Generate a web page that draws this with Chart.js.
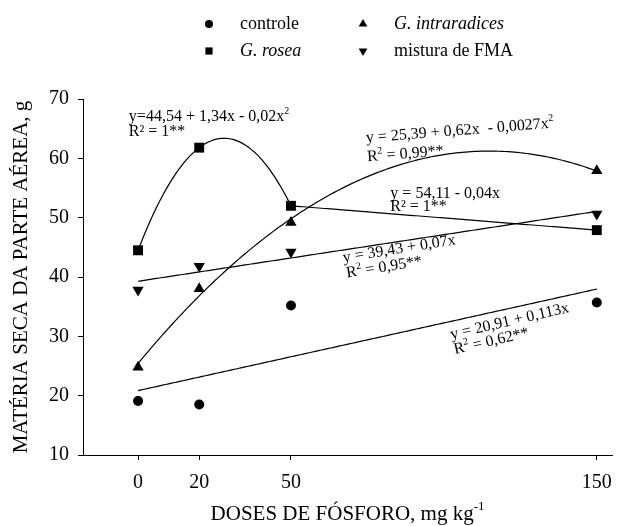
<!DOCTYPE html>
<html>
<head>
<meta charset="utf-8">
<script src="https://cdn.jsdelivr.net/npm/chart.js@4.4.1/dist/chart.umd.min.js"></script>
<style>
  html, body { margin: 0; padding: 0; background: #fff; }
  #wrap { width: 623px; height: 526px; }
</style>
</head>
<body>
<div id="wrap"><canvas id="chart"></canvas></div>
<script>
// doses de fósforo (mg kg-1)
const doses = [0, 20, 50, 150];
const doseTicks = [0, 20, 50, 150];
const yTicks = [10, 20, 30, 40, 50, 60, 70];

// matéria seca da parte aérea (g)
const controle = [19.1, 18.5, 35.2, 35.7];
const gRosea = [44.5, 61.8, 52.0, 47.9];
const gIntraradices = [24.8, 38.0, 49.2, 57.9];
const misturaFMA = [37.8, 41.8, 44.2, 50.6];

const xTitle = 'DOSES DE FÓSFORO, mg kg^-1';
const yTitle = 'MATÉRIA SECA DA PARTE AÉREA, g';
const serif = 'Liberation Serif';

// least squares polynomial fit, returns [a, b, c...]
function polyFit(xs, ys, deg) {
  const n = deg + 1;
  const A = [], b = [];
  for (let i = 0; i < n; i++) {
    A.push([]);
    for (let j = 0; j < n; j++) A[i].push(xs.reduce((s, x) => s + Math.pow(x, i + j), 0));
    b.push(xs.reduce((s, x, k) => s + ys[k] * Math.pow(x, i), 0));
  }
  for (let i = 0; i < n; i++) {
    for (let k = i + 1; k < n; k++) {
      const f = A[k][i] / A[i][i];
      for (let j = i; j < n; j++) A[k][j] -= f * A[i][j];
      b[k] -= f * b[i];
    }
  }
  const c = new Array(n).fill(0);
  for (let i = n - 1; i >= 0; i--) {
    let s = b[i];
    for (let j = i + 1; j < n; j++) s -= A[i][j] * c[j];
    c[i] = s / A[i][i];
  }
  return c;
}

function fitCurve(coef, from, to) {
  const pts = [];
  for (let x = from; x <= to + 1e-9; x += 1) {
    pts.push({ x: x, y: coef.reduce((s, c, i) => s + c * Math.pow(x, i), 0) });
  }
  return pts;
}

const toPoints = ys => doses.map((x, i) => ({ x: x, y: ys[i] }));

const marker = (label, ys, style, radius, rotation) => ({
  label: label, data: toPoints(ys), showLine: false, order: 0,
  pointStyle: style, pointRadius: radius, pointHoverRadius: radius, pointRotation: rotation || 0,
  backgroundColor: '#000', borderColor: '#000', borderWidth: 0
});

const trend = pts => ({
  label: 'fit', data: pts, showLine: true, order: 1, pointRadius: 0,
  borderColor: '#000', borderWidth: 1.2, tension: 0, fill: false
});

const datasets = [
  marker('controle', controle, 'circle', 5),
  marker('G. rosea', gRosea, 'rect', 7),
  marker('G. intraradices', gIntraradices, 'triangle', 6.5),
  marker('mistura de FMA', misturaFMA, 'triangle', 6.5, 180),
  trend(fitCurve(polyFit(doses, controle, 1), 0, 150)),
  trend(fitCurve(polyFit(doses.slice(0, 3), gRosea.slice(0, 3), 2), 0, 50)),
  trend(fitCurve(polyFit(doses.slice(2), gRosea.slice(2), 1), 50, 150)),
  trend(fitCurve(polyFit(doses, gIntraradices, 2), 0, 150)),
  trend(fitCurve(polyFit(doses, misturaFMA, 1), 0, 150))
];

// equation labels: anchor in data units (left, middle), angle in degrees
const equations = [
  { text: 'y=44,54 + 1,34x - 0,02x^2', x: -3, y: 67.0, angle: 0 },
  { text: 'R² = 1**', x: -3, y: 64.5, angle: 0 },
  { text: 'y = 25,39 + 0,62x  - 0,0027x^2', x: 74.5, y: 63.4, angle: -4.5 },
  { text: 'R^2 = 0,99**', x: 74.9, y: 60.2, angle: -4.5 },
  { text: 'y = 54,11 - 0,04x', x: 82.5, y: 54.0, angle: 0 },
  { text: 'R² = 1**', x: 82.5, y: 51.8, angle: 0 },
  { text: 'y = 39,43 + 0,07x', x: 67.0, y: 43.2, angle: -9 },
  { text: 'R^2 = 0,95**', x: 68.1, y: 40.6, angle: -9 },
  { text: 'y = 20,91 + 0,113x', x: 102.2, y: 30.2, angle: -13 },
  { text: 'R^2 = 0,62**', x: 103.3, y: 27.7, angle: -13 }
];

// text with ^superscripts
function richParts(str) {
  const parts = [];
  const re = /\^(\S+)/g;
  let last = 0, m;
  while ((m = re.exec(str))) {
    if (m.index > last) parts.push({ t: str.slice(last, m.index), sup: false });
    parts.push({ t: m[1], sup: true });
    last = re.lastIndex;
  }
  if (last < str.length) parts.push({ t: str.slice(last), sup: false });
  return parts;
}

function richWidth(ctx, str, size, style) {
  let w = 0;
  richParts(str).forEach(p => {
    ctx.font = `${style || ''} ${p.sup ? size * 0.62 : size}px "${serif}"`;
    w += ctx.measureText(p.t).width;
  });
  return w;
}

function drawRich(ctx, str, x, y, size, style) {
  ctx.textAlign = 'left';
  ctx.textBaseline = 'middle';
  let cx = x;
  richParts(str).forEach(p => {
    const s = p.sup ? size * 0.62 : size;
    ctx.font = `${style || ''} ${s}px "${serif}"`;
    ctx.fillText(p.t, cx, p.sup ? y - size * 0.33 : y);
    cx += ctx.measureText(p.t).width;
  });
}

function drawShape(ctx, style, x, y, r, rot) {
  ctx.beginPath();
  if (style === 'circle') {
    ctx.arc(x, y, r, 0, Math.PI * 2);
  } else if (style === 'rect') {
    ctx.rect(x - r, y - r, 2 * r, 2 * r);
  } else {
    const d = rot ? -1 : 1;
    ctx.moveTo(x, y - d * r);
    ctx.lineTo(x + r * 0.87, y + d * r * 0.5);
    ctx.lineTo(x - r * 0.87, y + d * r * 0.5);
    ctx.closePath();
  }
  ctx.fill();
}

const annotations = {
  id: 'annotations',
  afterDatasetsDraw(chart) {
    const { ctx, scales: { x, y } } = chart;
    ctx.save();
    ctx.fillStyle = '#000';
    equations.forEach(e => {
      ctx.save();
      ctx.translate(x.getPixelForValue(e.x), y.getPixelForValue(e.y));
      ctx.rotate(e.angle * Math.PI / 180);
      drawRich(ctx, e.text, 0, 0, 16);
      ctx.restore();
    });

    // x axis title with superscript
    const a = chart.chartArea;
    const w = richWidth(ctx, xTitle, 21);
    drawRich(ctx, xTitle, (a.left + a.right) / 2 - w / 2, 514, 21);

    // legend, two columns
    const items = [
      { i: 0, col: 0, row: 0, italic: false },
      { i: 2, col: 1, row: 0, italic: true },
      { i: 1, col: 0, row: 1, italic: true },
      { i: 3, col: 1, row: 1, italic: false }
    ];
    const colX = [209, 363], rowY = [24, 51];
    items.forEach(it => {
      const ds = chart.data.datasets[it.i];
      const mx = colX[it.col], my = rowY[it.row];
      const r = ds.pointStyle === 'circle' ? 4 : ds.pointStyle === 'rect' ? 3.6 : 5;
      drawShape(ctx, ds.pointStyle, mx, my, r, ds.pointRotation);
      ctx.font = `${it.italic ? 'italic ' : ''}18px "${serif}"`;
      ctx.textAlign = 'left';
      ctx.textBaseline = 'middle';
      ctx.fillText(ds.label, mx + 31, my);
    });
    ctx.restore();
  }
};

Chart.defaults.font.family = serif;
Chart.defaults.color = '#000';

new Chart(document.getElementById('chart'), {
  type: 'scatter',
  data: { datasets: datasets },
  options: {
    responsive: true,
    maintainAspectRatio: false,
    animation: false,
    layout: { padding: { top: 99, left: 0, right: 0, bottom: 0 } },
    plugins: {
      legend: { display: false },
      tooltip: { enabled: false }
    },
    scales: {
      x: {
        type: 'linear',
        min: -18,
        max: 155,
        afterBuildTicks: s => { s.ticks = doseTicks.map(v => ({ value: v })); },
        afterFit: s => { s.height = 71; },
        ticks: { font: { size: 20 }, color: '#000', padding: 11, maxRotation: 0, autoSkip: false },
        grid: { drawOnChartArea: false, drawTicks: true, tickLength: 5, color: '#000' },
        border: { display: true, color: '#000', width: 1 }
      },
      y: {
        min: 10,
        max: 70,
        afterBuildTicks: s => { s.ticks = yTicks.map(v => ({ value: v })); },
        afterFit: s => { s.width = 83; },
        ticks: { font: { size: 20 }, color: '#000', padding: 9 },
        grid: { drawOnChartArea: false, drawTicks: true, tickLength: 5, color: '#000' },
        border: { display: true, color: '#000', width: 1 },
        title: {
          display: true,
          text: yTitle,
          font: { size: 21 },
          color: '#000',
          padding: { top: 9, bottom: 0 }
        }
      }
    }
  },
  plugins: [annotations]
});
</script>
</body>
</html>
